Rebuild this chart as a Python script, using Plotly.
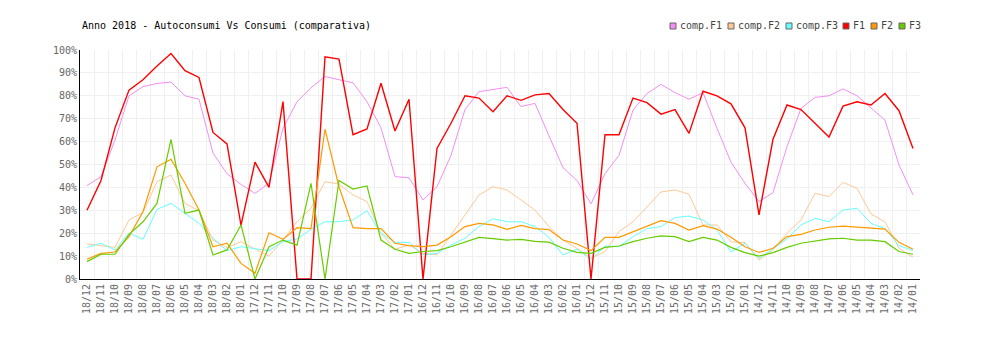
import plotly.graph_objects as go

months = ["18/12","18/11","18/10","18/09","18/08","18/07","18/06","18/05","18/04","18/03","18/02","18/01",
          "17/12","17/11","17/10","17/09","17/08","17/07","17/06","17/05","17/04","17/03","17/02","17/01",
          "16/12","16/11","16/10","16/09","16/08","16/07","16/06","16/05","16/04","16/03","16/02","16/01",
          "15/12","15/11","15/10","15/09","15/08","15/07","15/06","15/05","15/04","15/03","15/02","15/01",
          "14/12","14/11","14/10","14/09","14/08","14/07","14/06","14/05","14/04","14/03","14/02","14/01"]

comp_f1 = [40.8, 44.7, 60.7, 80, 84, 85.4, 86, 80, 78.5, 55, 46, 41.3, 37.4, 41.8, 65.8, 77.4, 83.5, 88.4, 87, 85.7,
           77.4, 66, 44.7, 44.2, 34.5, 40.3, 54, 74, 81.8, 82.8, 83.7, 75.3, 76.7, 62.5, 48.6, 43, 32.8, 46, 54, 73.8,
           81, 85, 81.4, 78.5, 81.4, 65.8, 51, 41.8, 33.8, 37.7, 57.8, 74.5, 79.3, 80, 83, 80, 74.8, 69.4, 49.8, 36.7]
comp_f2 = [15.3, 14.4, 13.8, 25.8, 29, 42.5, 45.4, 33, 29.8, 17, 13.7, 16.3, 13, 10, 17, 25, 31, 42.5, 41.5, 36.7,
           33.8, 20, 13, 14.8, 11.2, 10.5, 19.2, 28, 36.7, 40.3, 38.9, 34.5, 30.1, 22.9, 17, 13.4, 9, 12, 20.7, 25,
           31.6, 38, 38.9, 37, 23.6, 23.6, 16.2, 15.9, 8.3, 12.7, 20, 25.8, 37.4, 36, 42.2, 39.6, 28.4, 25, 13.4, 9.5]
comp_f3 = [13.8, 15.6, 12.7, 20, 17.3, 30.4, 33, 28.7, 24.3, 17.8, 12.4, 14.1, 13.1, 12.4, 16.3, 17.5, 21.7, 25, 25, 25.8,
           29.8, 20, 16, 16, 10.5, 11.2, 14.8, 17.8, 22.9, 26.3, 25, 25, 22.9, 18.2, 10.5, 13, 8.6, 14.4, 14.1, 18.5,
           22, 22.9, 26.8, 27.5, 25.8, 21.4, 11.8, 15.6, 9, 13.4, 17.5, 23.6, 26.5, 25, 30.1, 30.9, 24.3, 22, 14.6, 12.4]
f1 = [30, 43, 66, 82.5, 87, 93, 98.5, 91, 88, 64, 59, 23.5, 51, 40, 77.5, 0, 0, 97, 96, 63,
      65.5, 85.5, 64.6, 78.5, 0, 57, 68, 80, 79, 73, 80, 78, 80.4, 81, 74, 68, 0, 63, 63, 79,
      77, 72, 74, 63.6, 82, 80, 76.5, 66, 28, 61, 76, 74, 68, 62, 75.5, 77.4, 76, 81, 73.5, 57]
f2 = [8.6, 11.2, 11.8, 18.5, 29.4, 49, 52.3, 41.8, 30.1, 14.1, 15.6, 6.8, 2.5, 20.2, 17.3, 22.4, 22, 65.4, 40.3, 22.4,
      22, 22, 15.6, 14.6, 14.1, 14.8, 18.5, 22.9, 24.3, 23.6, 21.7, 23.4, 22, 21.6, 17, 15.3, 12.4, 18.2, 18.2, 20.7,
      23.3, 25.5, 24.3, 21.4, 23.3, 21.8, 18.2, 14.1, 11.6, 13.4, 18.5, 19.5, 21.4, 22.6, 23.1, 22.6, 22.1, 21.8, 16, 13]
f3 = [7.6, 10.8, 10.8, 19.5, 25, 33, 61, 28.7, 30.1, 10.5, 12.7, 23.6, 0, 14.1, 17, 14.8, 41.8, 0, 43, 39.3,
      40.6, 17, 13, 11.2, 12, 12.4, 14.1, 16.3, 18.2, 17.6, 17, 17.3, 16.4, 16.1, 13.4, 11.6, 11.2, 13.8, 14.4, 16.3,
      17.8, 18.8, 18.5, 16.3, 18.2, 17, 13.8, 11.5, 10, 11.5, 13.8, 15.6, 16.7, 17.5, 17.8, 17, 17, 16.3, 12, 10.8]

series_names = ["comp.F1", "comp.F2", "comp.F3", "F1", "F2", "F3"]
series_values = [comp_f1, comp_f2, comp_f3, f1, f2, f3]
colors = ["#f38ff3", "#ffc896", "#66ffff", "#ff0000", "#ff9900", "#66cc00"]
widths = [1, 1, 1, 1.4, 1.2, 1.2]
y_ticks = [0, 10, 20, 30, 40, 50, 60, 70, 80, 90, 100]
y_tick_labels = [f"{v}%" for v in y_ticks]

FONT = "DejaVu Sans Mono"
W, H = 1000, 340
L, R, T, B = 80, 80, 50, 61

fig = go.Figure()
for name, vals, c, w in zip(series_names, series_values, colors, widths):
    fig.add_trace(go.Scatter(x=months, y=vals, mode="lines", name=name,
                             line=dict(color=c, width=w), showlegend=False))

def px_x(px):
    return (px - L) / (W - L - R)

def px_y(py):
    return (H - B - py) / (H - T - B)

# custom legend
leg_x = [670, 728, 786, 843, 871, 899]
shapes = []
annotations = []
for name, c, x0 in zip(series_names, colors, leg_x):
    shapes.append(dict(type="rect", xref="paper", yref="paper",
                       x0=px_x(x0), x1=px_x(x0 + 6), y0=px_y(29), y1=px_y(23),
                       fillcolor=c, line=dict(color="#666666", width=1)))
    annotations.append(dict(text=name, xref="paper", yref="paper", x=px_x(x0 + 8), y=px_y(26),
                            xanchor="left", yanchor="middle", showarrow=False,
                            font=dict(family=FONT, size=10, color="#444444")))

annotations.append(dict(text="Anno 2018 - Autoconsumi Vs Consumi (comparativa)", xref="paper", yref="paper",
                        x=0, y=px_y(25), xanchor="left", yanchor="middle", showarrow=False,
                        font=dict(family=FONT, size=10, color="#000000")))

fig.update_layout(
    width=W, height=H,
    margin=dict(l=L, r=R, t=T, b=B, pad=0),
    paper_bgcolor="white", plot_bgcolor="white",
    font=dict(family=FONT, size=10, color="#666666"),
    shapes=shapes, annotations=annotations,
    showlegend=False,
    xaxis=dict(type="category", categoryorder="array", categoryarray=months,
               range=[-0.5, len(months) - 0.5], tickangle=-90, tickson="boundaries",
               showgrid=True, gridcolor="#f0f0f0", gridwidth=1,
               showline=True, linecolor="#000000", linewidth=1, ticks="",
               tickfont=dict(family=FONT, size=10, color="#6a6a6a"), zeroline=False),
    yaxis=dict(range=[0, 100], tickvals=y_ticks, ticktext=y_tick_labels,
               showgrid=True, gridcolor="#f0f0f0", gridwidth=1,
               showline=True, linecolor="#000000", linewidth=1, ticks="",
               tickfont=dict(family=FONT, size=10, color="#666666"), zeroline=False),
)

fig.write_html("out.html")
